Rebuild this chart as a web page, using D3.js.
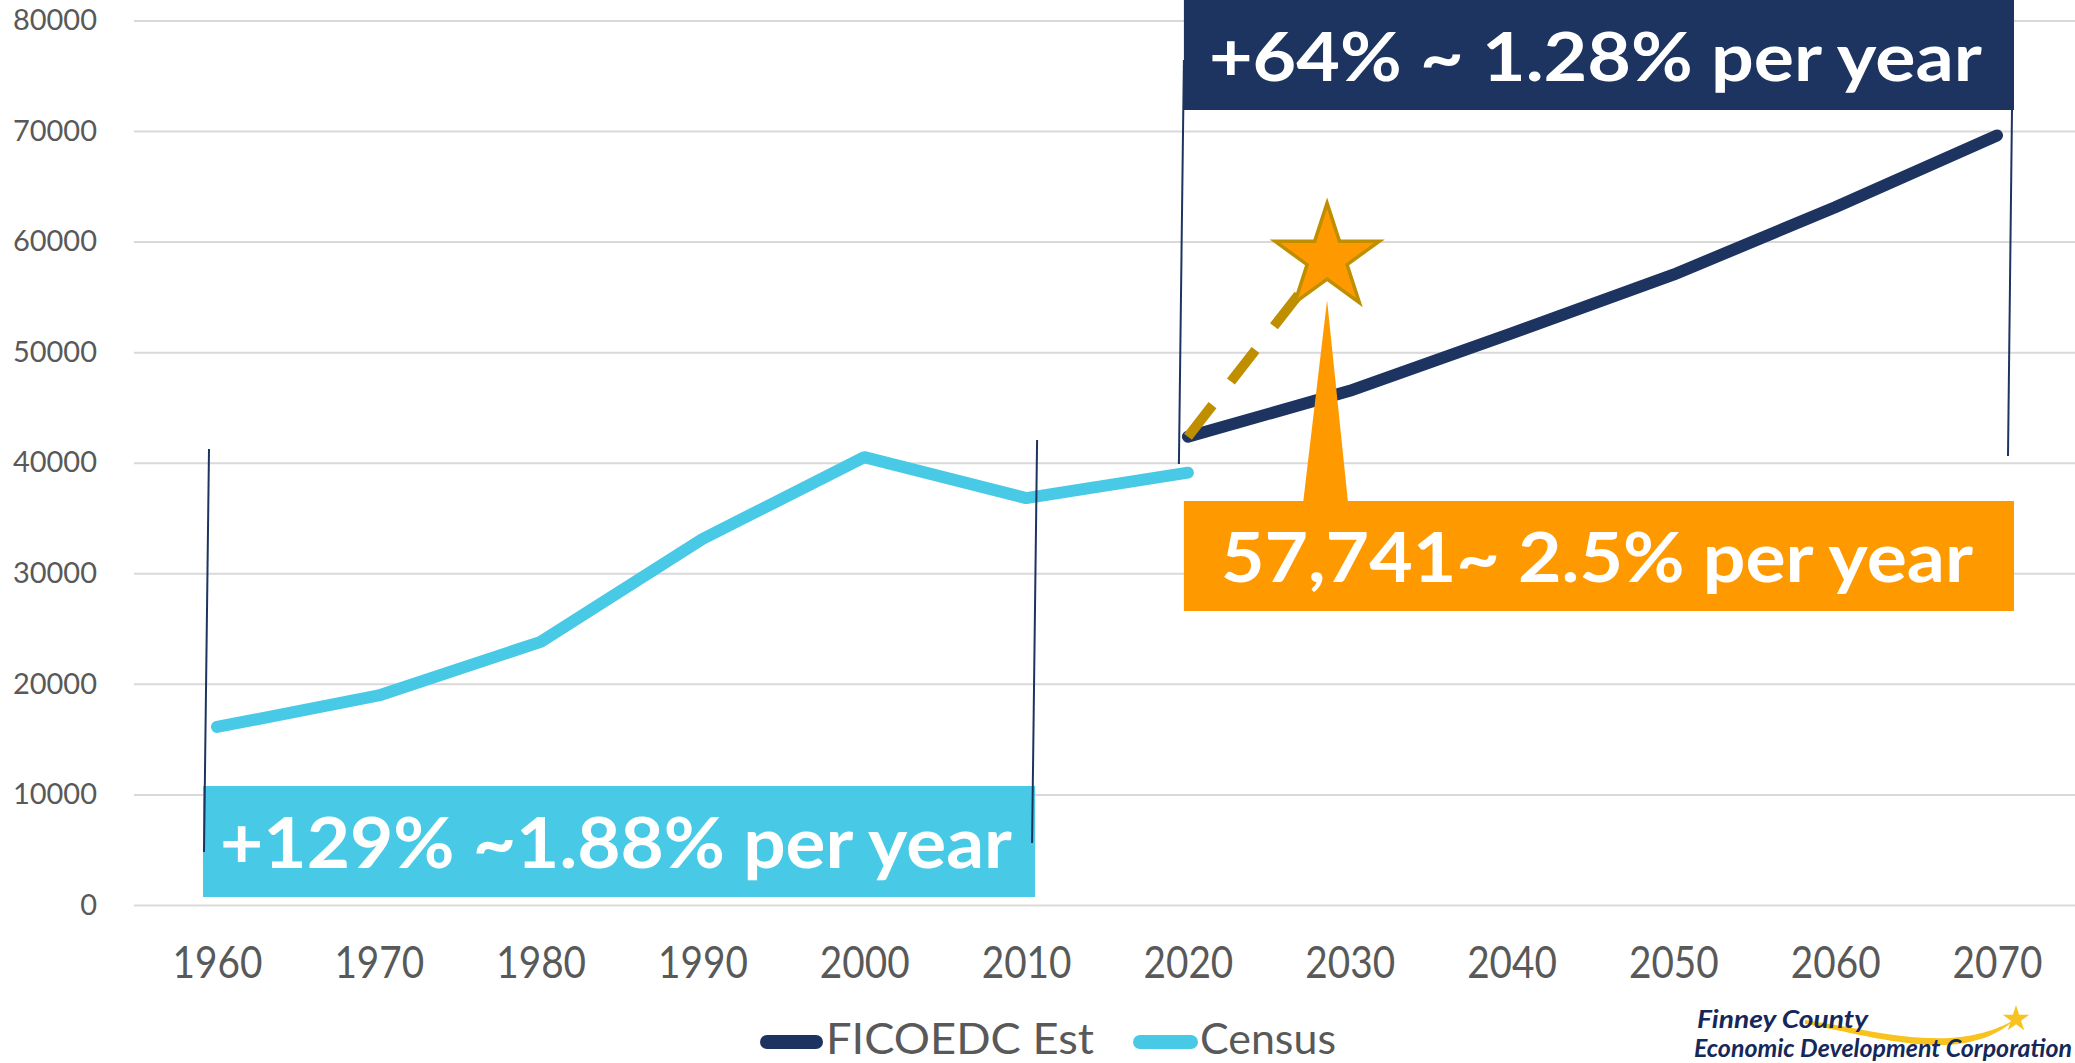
<!DOCTYPE html>
<html>
<head>
<meta charset="utf-8">
<script src="https://cdn.jsdelivr.net/npm/d3@7"></script>
<style>
	body { margin: 0; background: #fff; }
	svg { display: block; font-family: Lato, "Noto Sans", sans-serif; }
</style>
</head>
<body>
<svg id="chart" width="2075" height="1063"></svg>
<script>
// data
var decades = [1960, 1970, 1980, 1990, 2000, 2010, 2020, 2030, 2040, 2050, 2060, 2070];
var yTicks = [0, 10000, 20000, 30000, 40000, 50000, 60000, 70000, 80000];

var censusYears = [1960, 1970, 1980, 1990, 2000, 2010, 2020];
var censusPop = [16100, 18950, 23800, 33100, 40500, 36800, 39100];

var estYears = [2020, 2030, 2040, 2050, 2060, 2070];
var estPop = [42350, 46500, 51700, 57000, 63100, 69600];

// star target (position) and labels
var starYear = 2028.6, starPop = 58500;
var seriesNames = ["FICOEDC Est", "Census"];
var noteEst = "+64% ~ 1.28% per year";
var noteStar = "57,741~ 2.5% per year";
var noteCensus = "+129% ~1.88% per year";

var navy = "#1d3461", cyan = "#48cae6", orange = "#ff9900", gold = "#bf8f00";

var width = 2075, height = 1063;
var svg = d3.select("#chart");

var x = d3.scaleLinear().domain([1960, 2070]).range([217, 1997]);
var y = d3.scaleLinear().domain([0, 80000]).range([905, 20.4]);
var gridLeft = 134;

// gridlines + y labels
svg.append("g")
	.attr("class", "yAxis")
	.attr("transform", `translate(${gridLeft}, 0)`)
	.call(d3.axisLeft(y).tickValues(yTicks).tickFormat(d3.format("d")).tickSize(-(width - gridLeft)).tickPadding(37))
	.call(g => g.select(".domain").remove())
	.call(g => g.selectAll(".tick line").attr("stroke", "#d9d9d9").attr("stroke-width", 2))
	.call(g => g.selectAll(".tick text")
		.attr("fill", "#595959")
		.attr("font-size", "29px")
		.attr("font-family", "Lato, sans-serif"));

// x labels (a bit condensed like the original)
svg.append("g")
	.attr("class", "xAxis")
	.attr("transform", `translate(0, ${y(0)})`)
	.call(d3.axisBottom(x).tickValues(decades).tickFormat(d3.format("d")).tickSize(0).tickPadding(42))
	.call(g => g.select(".domain").remove())
	.call(g => g.selectAll(".tick text")
		.attr("fill", "#595959")
		.attr("font-size", "44px")
		.attr("font-family", "Lato, sans-serif")
		.each(function() {
			d3.select(this)
				.attr("textLength", this.getComputedTextLength() * 0.88)
				.attr("lengthAdjust", "spacingAndGlyphs");
		}));

var line = d3.line()
	.x(d => x(d[0]))
	.y(d => y(d[1]));

var census = censusYears.map((d, i) => [d, censusPop[i]]);
var est = estYears.map((d, i) => [d, estPop[i]]);

svg.append("path")
	.datum(census)
	.attr("d", line)
	.attr("fill", "none")
	.attr("stroke", cyan)
	.attr("stroke-width", 12)
	.attr("stroke-linecap", "round")
	.attr("stroke-linejoin", "round");

svg.append("path")
	.datum(est)
	.attr("d", line)
	.attr("fill", "none")
	.attr("stroke", navy)
	.attr("stroke-width", 12)
	.attr("stroke-linecap", "round")
	.attr("stroke-linejoin", "round");

// dashed path to the star
svg.append("path")
	.datum([est[0], [starYear, starPop]])
	.attr("d", line)
	.attr("fill", "none")
	.attr("stroke", gold)
	.attr("stroke-width", 10)
	.attr("stroke-dasharray", "40,30");

var sx = x(starYear), sy = y(starPop), starR = 55;
svg.append("path")
	.attr("d", d3.symbol(d3.symbolStar, starR * starR / 0.8908130915292852)())
	.attr("transform", `translate(${sx}, ${sy})`)
	.attr("fill", orange)
	.attr("stroke", gold)
	.attr("stroke-width", 3.5);

// callouts
var boxL = x(2020) - 4, boxR = x(2070) + 17;

svg.append("rect")
	.attr("x", boxL).attr("y", 0)
	.attr("width", boxR - boxL).attr("height", 110)
	.attr("fill", navy);
svg.append("text")
	.attr("x", boxL + 25).attr("y", 81)
	.attr("fill", "#fff")
	.attr("font-size", "66px")
	.attr("font-weight", 700)
	.attr("textLength", 773)
	.attr("lengthAdjust", "spacingAndGlyphs")
	.text(noteEst);

// pointer from the orange box up to the star
svg.append("path")
	.attr("d", `M${sx - 24},503 L${sx},${sy + 42} L${sx + 21},503 Z`)
	.attr("fill", orange);
svg.append("rect")
	.attr("x", boxL).attr("y", 501)
	.attr("width", boxR - boxL).attr("height", 110)
	.attr("fill", orange);
svg.append("text")
	.attr("x", boxL + 37).attr("y", 582)
	.attr("fill", "#fff")
	.attr("font-size", "68px")
	.attr("font-weight", 700)
	.attr("textLength", 752)
	.attr("lengthAdjust", "spacingAndGlyphs")
	.text(noteStar);

var cL = x(1960) - 14, cR = x(2010) + 9;
svg.append("rect")
	.attr("x", cL).attr("y", 786)
	.attr("width", cR - cL).attr("height", 111)
	.attr("fill", cyan);
svg.append("text")
	.attr("x", cL + 17).attr("y", 868)
	.attr("fill", "#fff")
	.attr("font-size", "70px")
	.attr("font-weight", 700)
	.attr("textLength", 792)
	.attr("lengthAdjust", "spacingAndGlyphs")
	.text(noteCensus);

// thin bracket lines
var brackets = [
	[x(1960) - 8, 449, x(1960) - 13, 852],
	[x(2010) + 11, 440, x(2010) + 6, 843],
	[x(2020) - 4, 60, x(2020) - 9, 464],
	[x(2070) + 15, 110, x(2070) + 11, 456]
];
svg.append("g")
	.selectAll("line")
	.data(brackets)
	.enter().append("line")
	.attr("x1", d => d[0]).attr("y1", d => d[1])
	.attr("x2", d => d[2]).attr("y2", d => d[3])
	.attr("stroke", navy)
	.attr("stroke-width", 2);

// legend
var legend = svg.append("g").attr("class", "legend");
var legendItems = [
	{ name: seriesNames[0], color: navy, x0: 767, x1: 816, tx: 826, tw: 268 },
	{ name: seriesNames[1], color: cyan, x0: 1140, x1: 1191, tx: 1200, tw: 136 }
];
for (let d of legendItems) {
	legend.append("line")
		.attr("x1", d.x0).attr("x2", d.x1)
		.attr("y1", 1042).attr("y2", 1042)
		.attr("stroke", d.color)
		.attr("stroke-width", 14)
		.attr("stroke-linecap", "round");
	legend.append("text")
		.attr("x", d.tx).attr("y", 1054)
		.attr("fill", "#595959")
		.attr("font-size", "43px")
		.attr("textLength", d.tw)
		.attr("lengthAdjust", "spacingAndGlyphs")
		.text(d.name);
}

// logo
var logo = svg.append("g").attr("class", "logo");
logo.append("path")
	.attr("d", "M1805,1020 C1860,1028 1900,1040 1950,1038 C1980,1036 2000,1028 2014,1020 C2000,1034 1975,1044 1945,1045 C1900,1046 1860,1034 1805,1024 Z")
	.attr("fill", "#f9c31f");
logo.append("path")
	.attr("d", d3.symbol(d3.symbolStar, 14 * 14 / 0.8908130915292852)())
	.attr("transform", "translate(2016, 1019)")
	.attr("fill", "#f9c31f");
logo.append("text")
	.attr("x", 1697).attr("y", 1028)
	.attr("fill", "#14285a")
	.attr("font-size", "24px")
	.attr("font-weight", 700)
	.attr("font-style", "italic")
	.attr("textLength", 171)
	.attr("lengthAdjust", "spacingAndGlyphs")
	.text("Finney County");
logo.append("text")
	.attr("x", 1694).attr("y", 1057)
	.attr("fill", "#14285a")
	.attr("font-size", "24px")
	.attr("font-weight", 700)
	.attr("font-style", "italic")
	.attr("textLength", 378)
	.attr("lengthAdjust", "spacingAndGlyphs")
	.text("Economic Development Corporation");
</script>
</body>
</html>
